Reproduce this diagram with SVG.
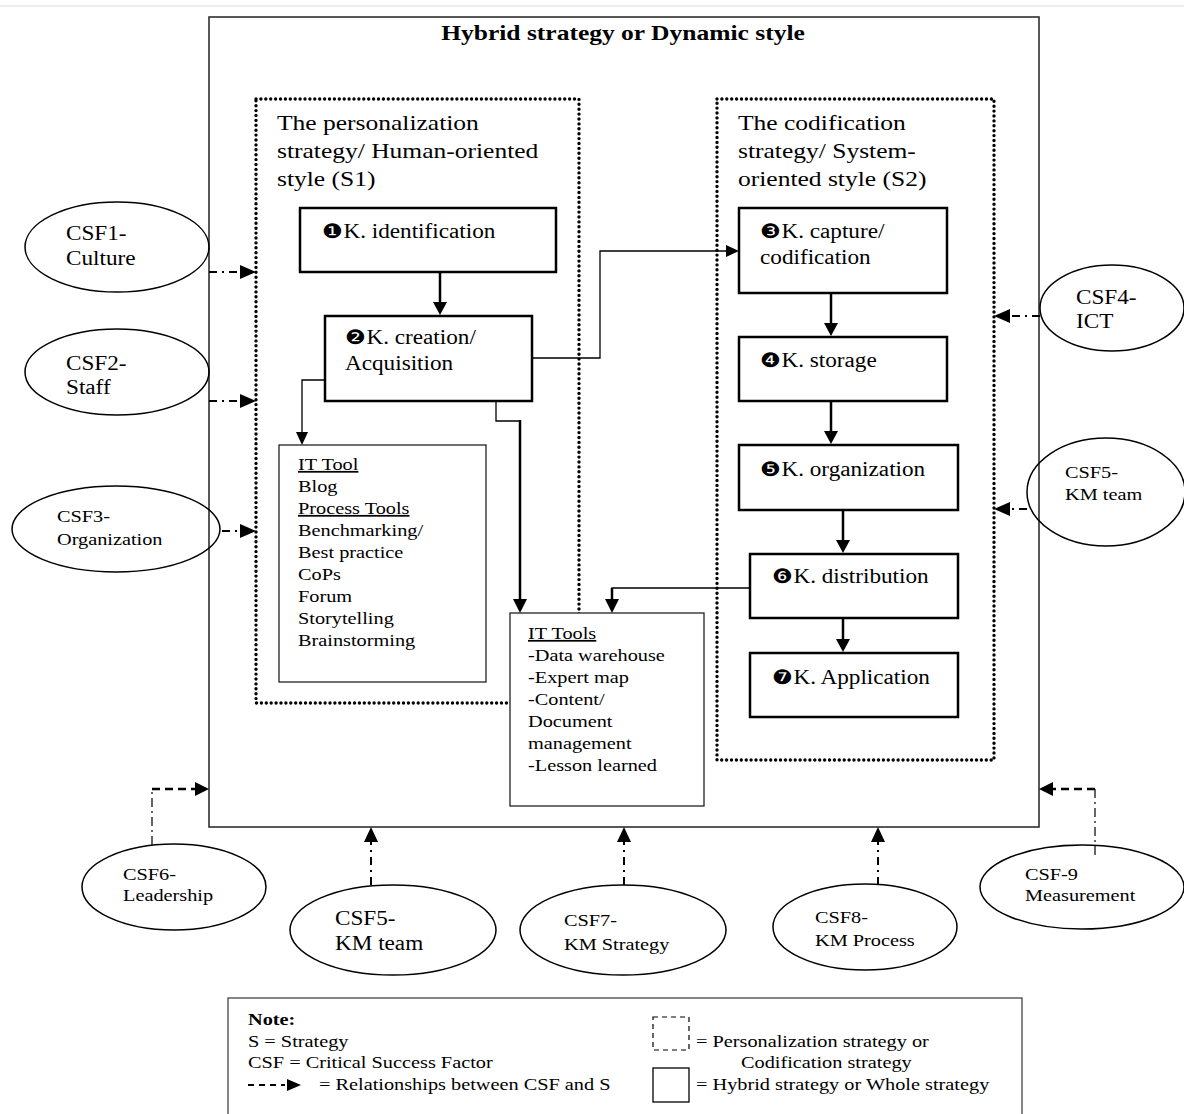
<svg xmlns="http://www.w3.org/2000/svg" width="1184" height="1114" viewBox="0 0 1184 1114">
<style>
text{font-family:"Liberation Serif","Times New Roman",serif;fill:#000;transform-box:fill-box;transform-origin:left center;transform:scaleX(1.16)}
text.c{transform-origin:center center}
.t{font-size:20px}
.s{font-size:17.5px}
.h{font-size:22px}
.n{font-size:20px}
.node{fill:#fff;stroke:#000;stroke-width:2.5}
.thin{fill:#fff;stroke:#222;stroke-width:1.3}
.dot{fill:none;stroke:#000;stroke-width:3.4;stroke-dasharray:0 4.9;stroke-linecap:round}
.ell{fill:none;stroke:#000;stroke-width:1.5}
.flow{fill:none;stroke:#000;stroke-width:2.5}
.fl1{fill:none;stroke:#000;stroke-width:1.3}
.dd{fill:none;stroke:#000;stroke-width:2;stroke-dasharray:8 5 2 5}
.dsh{fill:none;stroke:#000;stroke-width:2.5;stroke-dasharray:8 5}
.dv{fill:none;stroke:#000;stroke-width:1.2;stroke-dasharray:9 4 2 4}
</style>
<rect width="1184" height="1114" fill="#fff"/>
<line x1="0" y1="6" x2="1184" y2="6" stroke="#eee" stroke-width="2"/>

<g id="hybrid">
<rect x="209" y="17" width="830" height="810" fill="#fff" stroke="#222" stroke-width="1.5"/>
<text class="c" x="623" y="40" text-anchor="middle" style="font-size:22px;font-weight:bold">Hybrid strategy or Dynamic style</text>
</g>

<g id="s1">
<rect class="dot" x="256" y="99" width="323" height="604"/>
<text class="h" x="277" y="130">The personalization</text>
<text class="h" x="277" y="158">strategy/ Human-oriented</text>
<text class="h" x="277" y="186">style (S1)</text>
</g>

<g id="s2">
<rect class="dot" x="717" y="99" width="277" height="661"/>
<text class="h" x="738" y="130">The codification</text>
<text class="h" x="738" y="158">strategy/ System-</text>
<text class="h" x="738" y="186">oriented style (S2)</text>
</g>

<g id="k1"><rect class="node" x="300" y="208" width="256" height="64"/><text class="n" x="322" y="238">❶K. identification</text></g>
<g id="k2"><rect class="node" x="325" y="316" width="207" height="85"/><text class="n" x="345" y="344">❷K. creation/</text><text class="n" x="345" y="370">Acquisition</text></g>
<g id="k3"><rect class="node" x="739" y="208" width="208" height="85"/><text class="n" x="760" y="238">❸K. capture/</text><text class="n" x="760" y="264">codification</text></g>
<g id="k4"><rect class="node" x="739" y="337" width="208" height="64"/><text class="n" x="760" y="367">❹K. storage</text></g>
<g id="k5"><rect class="node" x="739" y="445" width="219" height="65"/><text class="n" x="760" y="476">❺K. organization</text></g>
<g id="k6"><rect class="node" x="750" y="554" width="208" height="64"/><text class="n" x="772" y="583">❻K. distribution</text></g>
<g id="k7"><rect class="node" x="750" y="653" width="208" height="64"/><text class="n" x="772" y="684">❼K. Application</text></g>

<g id="ittool">
<rect class="thin" x="279" y="445" width="207" height="237"/>
<text class="s" x="298" y="470" text-decoration="underline">IT Tool</text>
<text class="s" x="298" y="492">Blog</text>
<text class="s" x="298" y="514" text-decoration="underline">Process Tools</text>
<text class="s" x="298" y="536">Benchmarking/</text>
<text class="s" x="298" y="558">Best practice</text>
<text class="s" x="298" y="580">CoPs</text>
<text class="s" x="298" y="602">Forum</text>
<text class="s" x="298" y="624">Storytelling</text>
<text class="s" x="298" y="646">Brainstorming</text>
</g>

<g id="ittools">
<rect class="thin" x="510" y="613" width="194" height="193"/>
<text class="s" x="528" y="639" text-decoration="underline">IT Tools</text>
<text class="s" x="528" y="661">-Data warehouse</text>
<text class="s" x="528" y="683">-Expert map</text>
<text class="s" x="528" y="705">-Content/</text>
<text class="s" x="528" y="727">Document</text>
<text class="s" x="528" y="749">management</text>
<text class="s" x="528" y="771">-Lesson learned</text>
</g>

<g id="csf1"><ellipse class="ell" cx="117" cy="247" rx="92" ry="45"/><text class="t" x="66" y="240">CSF1-</text><text class="t" x="66" y="265">Culture</text></g>
<g id="csf2"><ellipse class="ell" cx="117" cy="372" rx="92" ry="43"/><text class="t" x="66" y="370">CSF2-</text><text class="t" x="66" y="394">Staff</text></g>
<g id="csf3"><ellipse class="ell" cx="116" cy="529" rx="104" ry="43"/><text class="s" x="57" y="522">CSF3-</text><text class="s" x="57" y="545">Organization</text></g>
<g id="csf4"><ellipse class="ell" cx="1112" cy="308" rx="72" ry="43"/><text class="t" x="1076" y="304">CSF4-</text><text class="t" x="1076" y="328">ICT</text></g>
<g id="csf5r"><ellipse class="ell" cx="1106" cy="492" rx="79" ry="54"/><text class="s" x="1065" y="478">CSF5-</text><text class="s" x="1065" y="500">KM team</text></g>
<g id="csf6"><ellipse class="ell" cx="174" cy="887" rx="92" ry="43"/><text class="s" x="123" y="880">CSF6-</text><text class="s" x="123" y="901">Leadership</text></g>
<g id="csf5b"><ellipse class="ell" cx="393" cy="930" rx="103" ry="45"/><text class="t" x="335" y="925">CSF5-</text><text class="t" x="335" y="950">KM team</text></g>
<g id="csf7"><ellipse class="ell" cx="623" cy="930" rx="103" ry="45"/><text class="s" x="564" y="926">CSF7-</text><text class="s" x="564" y="950">KM Strategy</text></g>
<g id="csf8"><ellipse class="ell" cx="865" cy="927" rx="92" ry="43"/><text class="s" x="815" y="923">CSF8-</text><text class="s" x="815" y="946">KM Process</text></g>
<g id="csf9"><ellipse class="ell" cx="1082" cy="887" rx="102" ry="42"/><text class="s" x="1025" y="880">CSF-9</text><text class="s" x="1025" y="901">Measurement</text></g>

<g id="connectors">
<line class="flow" x1="440" y1="272" x2="440" y2="303"/><path d="M433,302 L440,315 L447,302 z"/>
<line class="flow" x1="831" y1="293" x2="831" y2="324"/><path d="M824,323 L831,336 L838,323 z"/>
<line class="flow" x1="831" y1="401" x2="831" y2="432"/><path d="M824,431 L831,444 L838,431 z"/>
<line class="flow" x1="843" y1="510" x2="843" y2="541"/><path d="M836,540 L843,553 L850,540 z"/>
<line class="flow" x1="843" y1="618" x2="843" y2="640"/><path d="M836,639 L843,652 L850,639 z"/>
<path class="fl1" d="M532,358 H600 V251 H726"/>
<path d="M726,245 L739,251 L726,257 z"/>
<path class="fl1" d="M325,380 H302 V432"/>
<path d="M296,432 L302,445 L308,432 z"/>
<path class="fl1" d="M496,401 V421 H520"/>
<line class="flow" x1="520" y1="420" x2="520" y2="600"/>
<path d="M513,599 L520,613 L527,599 z"/>
<path class="fl1" d="M750,588 H612 V600"/>
<line class="flow" x1="612" y1="588" x2="612" y2="600"/>
<path d="M605,599 L612,613 L619,599 z"/>

<line class="dd" x1="209" y1="272" x2="242" y2="272"/><path d="M240,265 L256,272 L240,279 z"/>
<line class="dd" x1="209" y1="401" x2="242" y2="401"/><path d="M240,394 L256,401 L240,408 z"/>
<line class="dd" x1="222" y1="531" x2="242" y2="531"/><path d="M240,524 L256,531 L240,538 z"/>
<line class="dd" x1="1040" y1="316" x2="1008" y2="316"/><path d="M1010,309 L994,316 L1010,323 z"/>
<line class="dd" x1="1027" y1="509" x2="1008" y2="509"/><path d="M1010,502 L994,509 L1010,516 z"/>

<line class="dv" x1="152" y1="845" x2="152" y2="789"/>
<line class="dsh" x1="152" y1="789" x2="196" y2="789"/><path d="M195,782 L209,789 L195,796 z"/>
<line class="dv" x1="1095" y1="855" x2="1095" y2="789"/>
<line class="dsh" x1="1095" y1="789" x2="1052" y2="789"/><path d="M1053,782 L1039,789 L1053,796 z"/>

<line class="dd" x1="371" y1="885" x2="371" y2="841"/><path d="M364,842 L371,827 L378,842 z"/>
<line class="dd" x1="624" y1="885" x2="624" y2="841"/><path d="M617,842 L624,827 L631,842 z"/>
<line class="dd" x1="878" y1="885" x2="878" y2="841"/><path d="M871,842 L878,827 L885,842 z"/>
</g>

<g id="legend">
<rect x="228" y="998" width="794" height="130" fill="#fff" stroke="#444" stroke-width="1.3"/>
<text class="s" x="248" y="1025" font-weight="bold">Note:</text>
<text class="s" x="248" y="1047">S = Strategy</text>
<text class="s" x="248" y="1068">CSF = Critical Success Factor</text>
<line x1="248" y1="1085" x2="285" y2="1085" stroke="#000" stroke-width="2" stroke-dasharray="6 5"/>
<path d="M287,1079 L301,1085 L287,1091 z"/>
<text class="s" x="319" y="1090">= Relationships between CSF and S</text>
<rect x="653" y="1017" width="36" height="33" fill="none" stroke="#000" stroke-width="1.2" stroke-dasharray="5 4"/>
<text class="s" x="696" y="1047">= Personalization strategy or</text>
<text class="s" x="741" y="1068">Codification strategy</text>
<rect x="653" y="1068" width="36" height="34" fill="none" stroke="#000" stroke-width="1.3"/>
<text class="s" x="696" y="1090">= Hybrid strategy or Whole strategy</text>
</g>
</svg>
